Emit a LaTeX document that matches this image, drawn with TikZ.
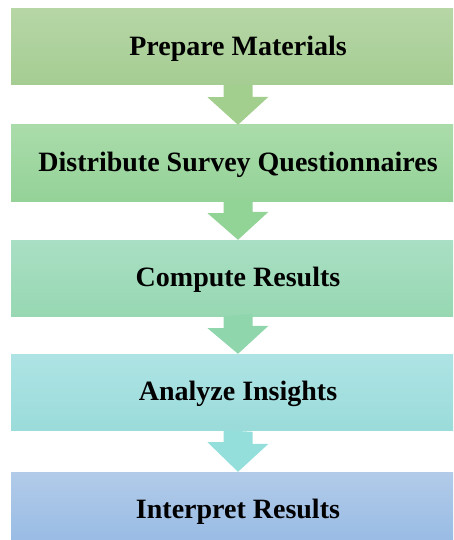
\documentclass[tikz,border=0pt]{standalone}
\usepackage{fontspec}
\setmainfont{Liberation Serif}
\usetikzlibrary{calc}

% step colours: light top and darker bottom of each band, plus its arrow
\definecolor{aTop}{RGB}{182,214,166}
\definecolor{aBot}{RGB}{165,205,146}
\definecolor{aArr}{RGB}{162,206,142}
\definecolor{bTop}{RGB}{170,220,170}
\definecolor{bBot}{RGB}{148,210,152}
\definecolor{bArr}{RGB}{146,211,150}
\definecolor{cTop}{RGB}{169,223,196}
\definecolor{cBot}{RGB}{151,216,178}
\definecolor{cArr}{RGB}{144,214,172}
\definecolor{dTop}{RGB}{174,227,228}
\definecolor{dBot}{RGB}{154,220,218}
\definecolor{dArr}{RGB}{148,223,220}
\definecolor{eTop}{RGB}{178,203,233}
\definecolor{eBot}{RGB}{150,186,228}

\tikzset{
  stepbox/.style={rectangle, draw=none, minimum width=454pt, minimum height=76pt,
    inner sep=0pt, text height=17.5pt, text depth=0pt,
    font=\fontsize{28}{32}\selectfont\bfseries, text=black}
}

% a broad down arrow from the bottom of one band to the top of the next
\newcommand{\bandarrow}[3]{%
  \fill[#3] (#1.south) ++(-14.5,0) -- ++(0,12) -- ++(-16,0) -- (#2.north)
    -- ++(30.5,-28) -- ++(-16,0) -- ++(0,-12) -- cycle;}

\begin{document}
\begin{tikzpicture}[x=1pt, y=-1pt]
  \useasboundingbox (0,0) rectangle (453,540);
  \clip (0,0) rectangle (453,540);

  \node[stepbox, top color=aTop, bottom color=aBot] (s1) at (238,47)  {Prepare Materials};
  \node[stepbox, top color=bTop, bottom color=bBot] (s2) at (238,163) {Distribute Survey Questionnaires};
  \node[stepbox, top color=cTop, bottom color=cBot] (s3) at (238,278) {Compute Results};
  \node[stepbox, top color=dTop, bottom color=dBot] (s4) at (238,392) {Analyze Insights};
  \node[stepbox, top color=eTop, bottom color=eBot] (s5) at (238,510) {Interpret Results};

  \bandarrow{s1}{s2}{aArr}
  \bandarrow{s2}{s3}{bArr}
  \bandarrow{s3}{s4}{cArr}
  \bandarrow{s4}{s5}{dArr}
\end{tikzpicture}
\end{document}
